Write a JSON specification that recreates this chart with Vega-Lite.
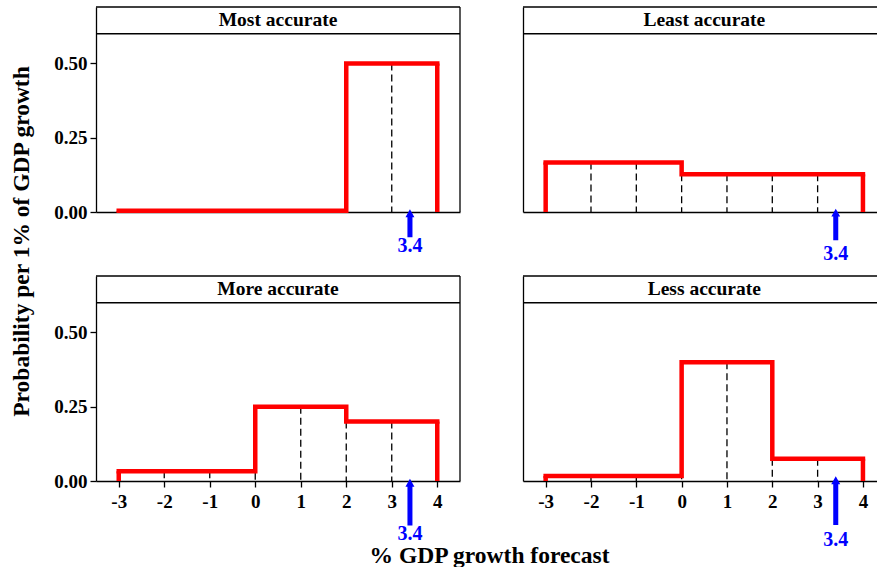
{
  "$schema": "https://vega.github.io/schema/vega-lite/v6.json",
  "autosize": {"type": "pad"},
  "padding": {"top": 6, "left": 8, "right": 0, "bottom": 0},
  "bounds": "flush",
  "columns": 2,
  "spacing": {"row": 64, "column": 63},
  "config": {
    "view": {"stroke": null},
    "font": "Liberation Serif",
    "axis": {
      "grid": false,
      "labelFont": "Liberation Serif", "labelFontWeight": "bold", "labelFontSize": 19, "labelColor": "black",
      "domainColor": "black", "domainWidth": 1.3, "tickColor": "black", "tickWidth": 1.3, "tickSize": 6,
      "titleFont": "Liberation Serif", "titleFontWeight": "bold", "titleFontSize": 23.5, "titleColor": "black",
      "labelOverlap": false, "labelFlush": false
    }
  },
  "datasets": {
    "bins": [
      {"panel": "Most accurate", "lo": -3, "hi": -2, "p": 0.004},
      {"panel": "Most accurate", "lo": -2, "hi": -1, "p": 0.004},
      {"panel": "Most accurate", "lo": -1, "hi": 0, "p": 0.004},
      {"panel": "Most accurate", "lo": 0, "hi": 1, "p": 0.004},
      {"panel": "Most accurate", "lo": 1, "hi": 2, "p": 0.004},
      {"panel": "Most accurate", "lo": 2, "hi": 3, "p": 0.5},
      {"panel": "Most accurate", "lo": 3, "hi": 4, "p": 0.5},
      {"panel": "Least accurate", "lo": -3, "hi": -2, "p": 0.167},
      {"panel": "Least accurate", "lo": -2, "hi": -1, "p": 0.167},
      {"panel": "Least accurate", "lo": -1, "hi": 0, "p": 0.167},
      {"panel": "Least accurate", "lo": 0, "hi": 1, "p": 0.127},
      {"panel": "Least accurate", "lo": 1, "hi": 2, "p": 0.127},
      {"panel": "Least accurate", "lo": 2, "hi": 3, "p": 0.127},
      {"panel": "Least accurate", "lo": 3, "hi": 4, "p": 0.127},
      {"panel": "More accurate", "lo": -3, "hi": -2, "p": 0.033},
      {"panel": "More accurate", "lo": -2, "hi": -1, "p": 0.033},
      {"panel": "More accurate", "lo": -1, "hi": 0, "p": 0.033},
      {"panel": "More accurate", "lo": 0, "hi": 1, "p": 0.25},
      {"panel": "More accurate", "lo": 1, "hi": 2, "p": 0.25},
      {"panel": "More accurate", "lo": 2, "hi": 3, "p": 0.2},
      {"panel": "More accurate", "lo": 3, "hi": 4, "p": 0.2},
      {"panel": "Less accurate", "lo": -3, "hi": -2, "p": 0.017},
      {"panel": "Less accurate", "lo": -2, "hi": -1, "p": 0.017},
      {"panel": "Less accurate", "lo": -1, "hi": 0, "p": 0.017},
      {"panel": "Less accurate", "lo": 0, "hi": 1, "p": 0.4},
      {"panel": "Less accurate", "lo": 1, "hi": 2, "p": 0.4},
      {"panel": "Less accurate", "lo": 2, "hi": 3, "p": 0.075},
      {"panel": "Less accurate", "lo": 3, "hi": 4, "p": 0.075}
    ],
    "actual": [{"actual": 3.4}],
    "frame": [{"frame": 1}]
  },
  "concat": [
    {
      "width": 364, "height": 205,
      "layer": [
        {
          "data": {"name": "bins"},
          "transform": [{"filter": "datum.panel === 'Most accurate' && datum.lo > -3"}],
          "mark": {"type": "rule", "color": "black", "strokeWidth": 1.3, "strokeDash": [7, 4]},
          "encoding": {
            "x": {"field": "lo", "type": "quantitative", "scale": {"domain": [-3.5, 4.5], "nice": false, "zero": false},
                  "axis": {"domain": true, "ticks": false, "labels": false, "title": null}},
            "y": {"field": "p", "type": "quantitative", "scale": {"domain": [0, 0.69], "nice": false},
                  "axis": {"values": [0, 0.25, 0.5], "format": ".2f", "domain": true, "ticks": true, "labelPadding": 3,
                           "title": "Probability per 1% of GDP growth", "titleX": -75, "titleY": 234, "titleAngle": -90,
                           "titleAlign": "center", "titleBaseline": "middle"}},
            "y2": {"value": "height"}
          }
        },
        {
          "data": {"name": "bins"},
          "transform": [{"filter": "datum.panel === 'Most accurate'"}, {"fold": ["lo", "hi"], "as": ["end", "xv"]},
                        {"filter": "datum.end === 'lo' || datum.xv === 4"}],
          "mark": {"type": "line", "color": "#ff0000", "strokeWidth": 4.5, "strokeJoin": "miter", "strokeCap": "square", "interpolate": "step-after"},
          "encoding": {
            "x": {"field": "xv", "type": "quantitative"},
            "y": {"field": "p", "type": "quantitative"}
          }
        },
        {
          "data": {"name": "bins"},
          "transform": [{"filter": "datum.panel === 'Most accurate'"}, {"fold": ["lo", "hi"], "as": ["end", "xv"]},
                        {"filter": "(datum.end === 'lo' && datum.xv === -3) || (datum.end === 'hi' && datum.xv === 4)"}],
          "mark": {"type": "rule", "color": "#ff0000", "strokeWidth": 4.5},
          "encoding": {
            "x": {"field": "xv", "type": "quantitative"},
            "y": {"field": "p", "type": "quantitative"},
            "y2": {"value": "height"}
          }
        },
        {
          "data": {"name": "bins"},
          "transform": [{"filter": "datum.panel === 'Most accurate' && datum.lo === -3"}],
          "mark": {"type": "text", "font": "Liberation Serif", "fontWeight": "bold", "fontSize": 19.5, "color": "black", "baseline": "middle", "align": "center"},
          "encoding": {
            "x": {"datum": 0.5, "type": "quantitative"},
            "y": {"datum": 0.645, "type": "quantitative"},
            "text": {"field": "panel", "type": "nominal"}
          }
        },
        {
          "data": {"name": "frame"},
          "mark": {"type": "rule", "color": "black", "strokeWidth": 1.3},
          "encoding": {"y": {"datum": 0.69, "type": "quantitative"}}
        },
        {
          "data": {"name": "frame"},
          "mark": {"type": "rule", "color": "black", "strokeWidth": 1.3},
          "encoding": {"y": {"datum": 0.6, "type": "quantitative"}}
        },
        {
          "data": {"name": "frame"},
          "mark": {"type": "rule", "color": "black", "strokeWidth": 1.3},
          "encoding": {"x": {"datum": 4.5, "type": "quantitative"}}
        },
        {
          "data": {"name": "actual"},
          "mark": {"type": "point", "shape": "M-0.18,1L0.18,1L0.18,-0.43L0.32,-0.43L0,-1L-0.32,-0.43L-0.18,-0.43Z", "filled": true, "color": "#0000ff", "size": 784, "opacity": 1, "strokeWidth": 0},
          "encoding": {
            "x": {"field": "actual", "type": "quantitative"},
            "y": {"datum": -0.038, "type": "quantitative"}
          }
        },
        {
          "data": {"name": "actual"},
          "mark": {"type": "text", "font": "Liberation Serif", "fontWeight": "bold", "fontSize": 20, "color": "#0000ff", "baseline": "middle", "align": "center"},
          "encoding": {
            "x": {"field": "actual", "type": "quantitative"},
            "y": {"datum": -0.116, "type": "quantitative"},
            "text": {"field": "actual", "type": "quantitative", "format": ".1f"}
          }
        }
      ]
    },
    {
      "width": 354, "height": 205,
      "layer": [
        {
          "data": {"name": "bins"},
          "transform": [{"filter": "datum.panel === 'Least accurate' && datum.lo > -3"}],
          "mark": {"type": "rule", "color": "black", "strokeWidth": 1.3, "strokeDash": [7, 4]},
          "encoding": {
            "x": {"field": "lo", "type": "quantitative", "scale": {"domain": [-3.5, 4.31], "nice": false, "zero": false},
                  "axis": {"domain": true, "ticks": false, "labels": false, "title": null}},
            "y": {"field": "p", "type": "quantitative", "scale": {"domain": [0, 0.69], "nice": false},
                  "axis": {"domain": true, "ticks": false, "labels": false, "title": null}},
            "y2": {"value": "height"}
          }
        },
        {
          "data": {"name": "bins"},
          "transform": [{"filter": "datum.panel === 'Least accurate'"}, {"fold": ["lo", "hi"], "as": ["end", "xv"]},
                        {"filter": "datum.end === 'lo' || datum.xv === 4"}],
          "mark": {"type": "line", "color": "#ff0000", "strokeWidth": 4.5, "strokeJoin": "miter", "strokeCap": "square", "interpolate": "step-after"},
          "encoding": {
            "x": {"field": "xv", "type": "quantitative"},
            "y": {"field": "p", "type": "quantitative"}
          }
        },
        {
          "data": {"name": "bins"},
          "transform": [{"filter": "datum.panel === 'Least accurate'"}, {"fold": ["lo", "hi"], "as": ["end", "xv"]},
                        {"filter": "(datum.end === 'lo' && datum.xv === -3) || (datum.end === 'hi' && datum.xv === 4)"}],
          "mark": {"type": "rule", "color": "#ff0000", "strokeWidth": 4.5},
          "encoding": {
            "x": {"field": "xv", "type": "quantitative"},
            "y": {"field": "p", "type": "quantitative"},
            "y2": {"value": "height"}
          }
        },
        {
          "data": {"name": "bins"},
          "transform": [{"filter": "datum.panel === 'Least accurate' && datum.lo === -3"}],
          "mark": {"type": "text", "font": "Liberation Serif", "fontWeight": "bold", "fontSize": 19.5, "color": "black", "baseline": "middle", "align": "center"},
          "encoding": {
            "x": {"datum": 0.5, "type": "quantitative"},
            "y": {"datum": 0.645, "type": "quantitative"},
            "text": {"field": "panel", "type": "nominal"}
          }
        },
        {
          "data": {"name": "frame"},
          "mark": {"type": "rule", "color": "black", "strokeWidth": 1.3},
          "encoding": {"y": {"datum": 0.69, "type": "quantitative"}}
        },
        {
          "data": {"name": "frame"},
          "mark": {"type": "rule", "color": "black", "strokeWidth": 1.3},
          "encoding": {"y": {"datum": 0.6, "type": "quantitative"}}
        },
        {
          "data": {"name": "actual"},
          "mark": {"type": "point", "shape": "M-0.158,1L0.158,1L0.158,-0.5L0.28,-0.5L0,-1L-0.28,-0.5L-0.158,-0.5Z", "filled": true, "color": "#0000ff", "size": 1005, "opacity": 1, "strokeWidth": 0},
          "encoding": {
            "x": {"field": "actual", "type": "quantitative"},
            "y": {"datum": -0.042, "type": "quantitative"}
          }
        },
        {
          "data": {"name": "actual"},
          "mark": {"type": "text", "font": "Liberation Serif", "fontWeight": "bold", "fontSize": 20, "color": "#0000ff", "baseline": "middle", "align": "center"},
          "encoding": {
            "x": {"field": "actual", "type": "quantitative"},
            "y": {"datum": -0.141, "type": "quantitative"},
            "text": {"field": "actual", "type": "quantitative", "format": ".1f"}
          }
        }
      ]
    },
    {
      "width": 364, "height": 205,
      "layer": [
        {
          "data": {"name": "bins"},
          "transform": [{"filter": "datum.panel === 'More accurate' && datum.lo > -3"}],
          "mark": {"type": "rule", "color": "black", "strokeWidth": 1.3, "strokeDash": [7, 4]},
          "encoding": {
            "x": {"field": "lo", "type": "quantitative", "scale": {"domain": [-3.5, 4.5], "nice": false, "zero": false},
                  "axis": {"values": [-3, -2, -1, 0, 1, 2, 3, 4], "labelExpr": "datum.value + ''", "domain": true, "ticks": true, "labelPadding": 5,
                           "title": "% GDP growth forecast", "titleX": 393, "titleY": 81, "titleAlign": "center", "titleBaseline": "alphabetic"}},
            "y": {"field": "p", "type": "quantitative", "scale": {"domain": [0, 0.69], "nice": false},
                  "axis": {"values": [0, 0.25, 0.5], "format": ".2f", "domain": true, "ticks": true, "labelPadding": 3, "title": null}},
            "y2": {"value": "height"}
          }
        },
        {
          "data": {"name": "bins"},
          "transform": [{"filter": "datum.panel === 'More accurate'"}, {"fold": ["lo", "hi"], "as": ["end", "xv"]},
                        {"filter": "datum.end === 'lo' || datum.xv === 4"}],
          "mark": {"type": "line", "color": "#ff0000", "strokeWidth": 4.5, "strokeJoin": "miter", "strokeCap": "square", "interpolate": "step-after"},
          "encoding": {
            "x": {"field": "xv", "type": "quantitative"},
            "y": {"field": "p", "type": "quantitative"}
          }
        },
        {
          "data": {"name": "bins"},
          "transform": [{"filter": "datum.panel === 'More accurate'"}, {"fold": ["lo", "hi"], "as": ["end", "xv"]},
                        {"filter": "(datum.end === 'lo' && datum.xv === -3) || (datum.end === 'hi' && datum.xv === 4)"}],
          "mark": {"type": "rule", "color": "#ff0000", "strokeWidth": 4.5},
          "encoding": {
            "x": {"field": "xv", "type": "quantitative"},
            "y": {"field": "p", "type": "quantitative"},
            "y2": {"value": "height"}
          }
        },
        {
          "data": {"name": "bins"},
          "transform": [{"filter": "datum.panel === 'More accurate' && datum.lo === -3"}],
          "mark": {"type": "text", "font": "Liberation Serif", "fontWeight": "bold", "fontSize": 19.5, "color": "black", "baseline": "middle", "align": "center"},
          "encoding": {
            "x": {"datum": 0.5, "type": "quantitative"},
            "y": {"datum": 0.645, "type": "quantitative"},
            "text": {"field": "panel", "type": "nominal"}
          }
        },
        {
          "data": {"name": "frame"},
          "mark": {"type": "rule", "color": "black", "strokeWidth": 1.3},
          "encoding": {"y": {"datum": 0.69, "type": "quantitative"}}
        },
        {
          "data": {"name": "frame"},
          "mark": {"type": "rule", "color": "black", "strokeWidth": 1.3},
          "encoding": {"y": {"datum": 0.6, "type": "quantitative"}}
        },
        {
          "data": {"name": "frame"},
          "mark": {"type": "rule", "color": "black", "strokeWidth": 1.3},
          "encoding": {"x": {"datum": 4.5, "type": "quantitative"}}
        },
        {
          "data": {"name": "actual"},
          "mark": {"type": "point", "shape": "M-0.107,1L0.107,1L0.107,-0.657L0.193,-0.657L0,-1L-0.193,-0.657L-0.107,-0.657Z", "filled": true, "color": "#0000ff", "size": 2172, "opacity": 1, "strokeWidth": 0},
          "encoding": {
            "x": {"field": "actual", "type": "quantitative"},
            "y": {"datum": -0.071, "type": "quantitative"}
          }
        },
        {
          "data": {"name": "actual"},
          "mark": {"type": "text", "font": "Liberation Serif", "fontWeight": "bold", "fontSize": 20, "color": "#0000ff", "baseline": "middle", "align": "center"},
          "encoding": {
            "x": {"field": "actual", "type": "quantitative"},
            "y": {"datum": -0.177, "type": "quantitative"},
            "text": {"field": "actual", "type": "quantitative", "format": ".1f"}
          }
        }
      ]
    },
    {
      "width": 354, "height": 205,
      "layer": [
        {
          "data": {"name": "bins"},
          "transform": [{"filter": "datum.panel === 'Less accurate' && datum.lo > -3"}],
          "mark": {"type": "rule", "color": "black", "strokeWidth": 1.3, "strokeDash": [7, 4]},
          "encoding": {
            "x": {"field": "lo", "type": "quantitative", "scale": {"domain": [-3.5, 4.31], "nice": false, "zero": false},
                  "axis": {"values": [-3, -2, -1, 0, 1, 2, 3, 4], "labelExpr": "datum.value + ''", "domain": true, "ticks": true, "labelPadding": 5, "title": null}},
            "y": {"field": "p", "type": "quantitative", "scale": {"domain": [0, 0.69], "nice": false},
                  "axis": {"domain": true, "ticks": false, "labels": false, "title": null}},
            "y2": {"value": "height"}
          }
        },
        {
          "data": {"name": "bins"},
          "transform": [{"filter": "datum.panel === 'Less accurate'"}, {"fold": ["lo", "hi"], "as": ["end", "xv"]},
                        {"filter": "datum.end === 'lo' || datum.xv === 4"}],
          "mark": {"type": "line", "color": "#ff0000", "strokeWidth": 4.5, "strokeJoin": "miter", "strokeCap": "square", "interpolate": "step-after"},
          "encoding": {
            "x": {"field": "xv", "type": "quantitative"},
            "y": {"field": "p", "type": "quantitative"}
          }
        },
        {
          "data": {"name": "bins"},
          "transform": [{"filter": "datum.panel === 'Less accurate'"}, {"fold": ["lo", "hi"], "as": ["end", "xv"]},
                        {"filter": "(datum.end === 'lo' && datum.xv === -3) || (datum.end === 'hi' && datum.xv === 4)"}],
          "mark": {"type": "rule", "color": "#ff0000", "strokeWidth": 4.5},
          "encoding": {
            "x": {"field": "xv", "type": "quantitative"},
            "y": {"field": "p", "type": "quantitative"},
            "y2": {"value": "height"}
          }
        },
        {
          "data": {"name": "bins"},
          "transform": [{"filter": "datum.panel === 'Less accurate' && datum.lo === -3"}],
          "mark": {"type": "text", "font": "Liberation Serif", "fontWeight": "bold", "fontSize": 19.5, "color": "black", "baseline": "middle", "align": "center"},
          "encoding": {
            "x": {"datum": 0.5, "type": "quantitative"},
            "y": {"datum": 0.645, "type": "quantitative"},
            "text": {"field": "panel", "type": "nominal"}
          }
        },
        {
          "data": {"name": "frame"},
          "mark": {"type": "rule", "color": "black", "strokeWidth": 1.3},
          "encoding": {"y": {"datum": 0.69, "type": "quantitative"}}
        },
        {
          "data": {"name": "frame"},
          "mark": {"type": "rule", "color": "black", "strokeWidth": 1.3},
          "encoding": {"y": {"datum": 0.6, "type": "quantitative"}}
        },
        {
          "data": {"name": "actual"},
          "mark": {"type": "point", "shape": "M-0.103,1L0.103,1L0.103,-0.67L0.185,-0.67L0,-1L-0.185,-0.67L-0.103,-0.67Z", "filled": true, "color": "#0000ff", "size": 2372, "opacity": 1, "strokeWidth": 0},
          "encoding": {
            "x": {"field": "actual", "type": "quantitative"},
            "y": {"datum": -0.066, "type": "quantitative"}
          }
        },
        {
          "data": {"name": "actual"},
          "mark": {"type": "text", "font": "Liberation Serif", "fontWeight": "bold", "fontSize": 20, "color": "#0000ff", "baseline": "middle", "align": "center"},
          "encoding": {
            "x": {"field": "actual", "type": "quantitative"},
            "y": {"datum": -0.2, "type": "quantitative"},
            "text": {"field": "actual", "type": "quantitative", "format": ".1f"}
          }
        }
      ]
    }
  ]
}
